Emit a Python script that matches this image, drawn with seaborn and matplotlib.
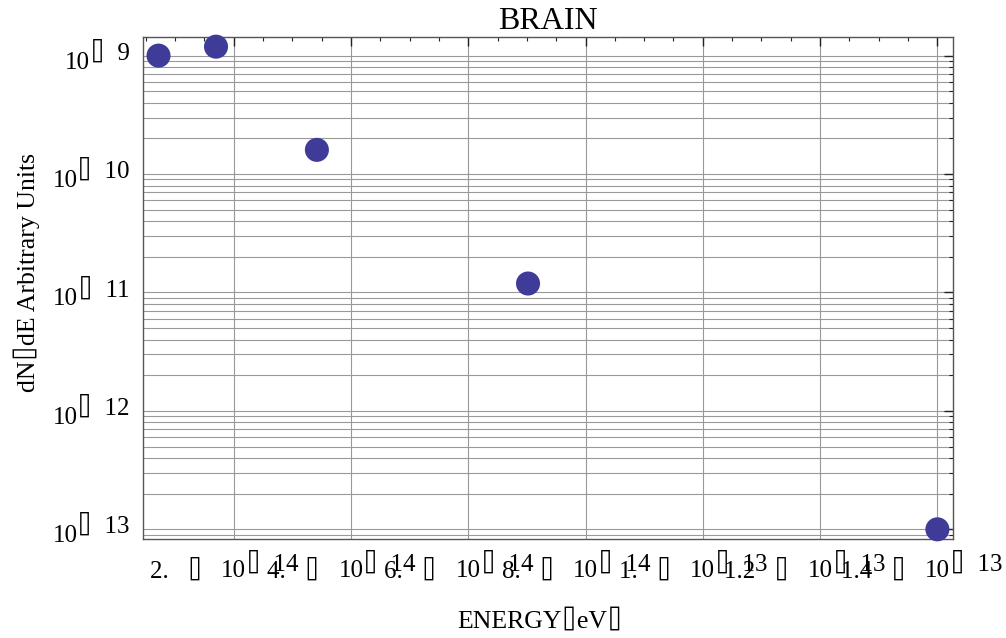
import numpy as np
import pandas as pd
import matplotlib.pyplot as plt
import seaborn as sns
from matplotlib.ticker import MultipleLocator, LogLocator, NullFormatter

# points
energy = [7.2e-15, 1.7e-14, 3.42e-14, 7.02e-14, 1.4e-13]
dnde = [1.0e-9, 1.19e-9, 1.6e-10, 1.19e-11, 1.0e-13]

# tick labels (the minus / times glyphs are missing boxes in the original)
x_ticks = [2e-14, 4e-14, 6e-14, 8e-14, 1e-13, 1.2e-13, 1.4e-13]
x_mant = ['2.', '4.', '6.', '8.', '1.', '1.2', '1.4']
x_exp = ['14', '14', '14', '14', '13', '13', '13']
y_ticks = [1e-9, 1e-10, 1e-11, 1e-12, 1e-13]
y_exp = ['9', '10', '11', '12', '13']

BOX = '\u2337'

sns.set_style('white')
plt.rcParams['font.family'] = ['Liberation Serif', 'DejaVu Sans', 'DejaVu Sans Mono']
plt.rcParams['text.color'] = 'black'
plt.rcParams['axes.labelcolor'] = 'black'

df = pd.DataFrame({'energy': energy, 'dnde': dnde})

fig = plt.figure(figsize=(10.06, 6.38), dpi=100)
ax = fig.add_axes([0.1421, 0.1552, 0.8052, 0.7868])

sns.scatterplot(data=df, x='energy', y='dnde', s=300, color='#3f3c99',
                edgecolor='none', linewidth=0, ax=ax, zorder=3, clip_on=False)

ax.set_yscale('log')

# 2% padding like the original
xr = max(energy) - min(energy)
ax.set_xlim(min(energy) - 0.02 * xr, max(energy) + 0.02 * xr)
ly = np.log10(dnde)
lr = ly.max() - ly.min()
ax.set_ylim(10 ** (ly.min() - 0.02 * lr), 10 ** (ly.max() + 0.02 * lr))

ax.set_xticks(x_ticks)
ax.xaxis.set_minor_locator(MultipleLocator(0.5e-14))
ax.yaxis.set_major_locator(LogLocator(base=10))
ax.yaxis.set_minor_locator(LogLocator(base=10, subs=range(2, 10)))
ax.yaxis.set_minor_formatter(NullFormatter())

ax.xaxis.grid(True, which='major', color='#999999', lw=0.8)
ax.yaxis.grid(True, which='both', color='#999999', lw=0.8)
ax.set_axisbelow(True)

ax.tick_params(which='both', direction='in', top=True, right=True,
               labelbottom=False, labelleft=False, color='#222222')
ax.tick_params(which='major', length=6.5, width=1)
ax.tick_params(which='minor', length=3, width=0.8)

for sp in ax.spines.values():
    sp.set_color('#555555')
    sp.set_linewidth(1)

fs = 18

# x tick labels
for v, m, e in zip(x_ticks, x_mant, x_exp):
    ten = ax.annotate('10', xy=(v, 0), xycoords=('data', 'axes fraction'),
                      xytext=(0, -32), textcoords='offset pixels',
                      ha='center', va='center', fontsize=fs)
    ax.annotate(m + '   ' + BOX + '   ', xy=(0, 0.5), xycoords=ten,
                ha='right', va='center', fontsize=fs)
    ax.annotate(BOX + '  ' + e, xy=(1, 0.5), xycoords=ten,
                xytext=(0, 7), textcoords='offset pixels',
                ha='left', va='center', fontsize=fs)

# y tick labels
for v, e in zip(y_ticks, y_exp):
    ex = ax.annotate(BOX + '  ' + e, xy=(0, v), xycoords=('axes fraction', 'data'),
                     xytext=(-13, 3), textcoords='offset pixels',
                     ha='right', va='center', fontsize=fs)
    ax.annotate('10', xy=(0, 0.5), xycoords=ex, xytext=(0, -10),
                textcoords='offset pixels', ha='right', va='center', fontsize=fs)

ax.set_title('BRAIN', fontsize=23, pad=6)
ax.set_xlabel('ENERGY' + BOX + 'eV' + BOX, fontsize=18.5)
ax.set_ylabel('dN' + BOX + 'dE Arbitrary Units', fontsize=18.5)
ax.xaxis.set_label_coords(0.49, -0.138)
ax.yaxis.set_label_coords(-0.127, 0.53)

fig.savefig('out.png', dpi=100)
